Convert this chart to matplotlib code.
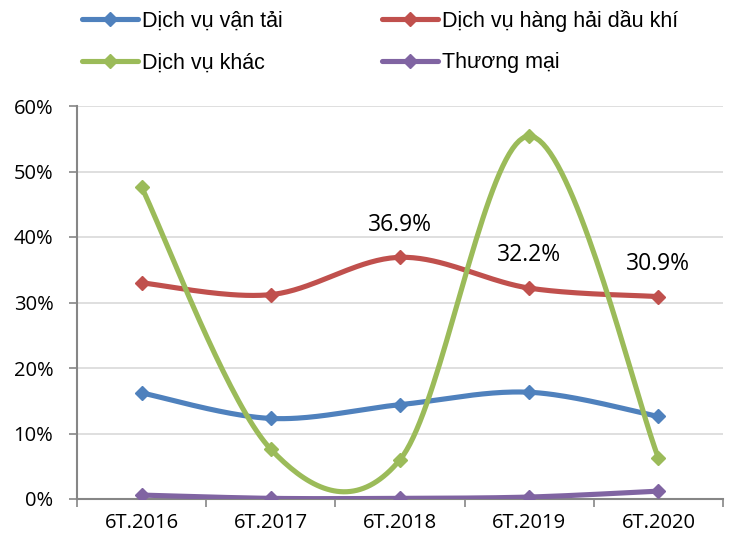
import numpy as np
import matplotlib
matplotlib.use("Agg")
import matplotlib.pyplot as plt
from matplotlib.lines import Line2D

categories = ["6T.2016", "6T.2017", "6T.2018", "6T.2019", "6T.2020"]
van_tai = [16.2, 12.3, 14.4, 16.3, 12.6]
hang_hai = [33.0, 31.2, 36.9, 32.2, 30.9]
khac = [47.6, 7.6, 6.0, 55.4, 6.3]
thuong_mai = [0.6, 0.1, 0.1, 0.3, 1.2]
series_names = ["Dịch vụ vận tải", "Dịch vụ hàng hải dầu khí", "Dịch vụ khác", "Thương mại"]
labels_idx = [2, 3, 4]  # labelled points of hang_hai
y_ticks = [0, 10, 20, 30, 40, 50, 60]

colors = ["#4F81BD", "#C0504D", "#9BBB59", "#8064A2"]


def smooth(x, y, n=40):
    x = np.asarray(x, float)
    y = np.asarray(y, float)
    P = np.column_stack([x, y])
    Pe = np.vstack([P[0], P, P[-1]])
    xs, ys = [], []
    t = np.linspace(0, 1, n)
    for i in range(len(P) - 1):
        p0, p1, p2, p3 = Pe[i], Pe[i + 1], Pe[i + 2], Pe[i + 3]
        c1 = p1 + (p2 - p0) / 6.0
        c2 = p2 - (p3 - p1) / 6.0
        b = ((1 - t) ** 3)[:, None] * p1 + (3 * (1 - t) ** 2 * t)[:, None] * c1 \
            + (3 * (1 - t) * t ** 2)[:, None] * c2 + (t ** 3)[:, None] * p2
        xs.append(b[:, 0])
        ys.append(b[:, 1])
    return np.concatenate(xs), np.concatenate(ys)


fig = plt.figure(figsize=(7.31, 5.42), dpi=100)
ax = fig.add_axes([77 / 731, 1 - 499 / 542, (723 - 77) / 731, (499 - 106) / 542])

x = np.arange(len(categories))
data = [van_tai, hang_hai, khac, thuong_mai]
handles = []
for vals, c, name in zip(data, colors, series_names):
    sx, sy = smooth(x, vals)
    ax.plot(sx, sy, color=c, lw=3.7, solid_capstyle="round", zorder=3)
    ax.plot(x, vals, linestyle="none", marker="D", ms=7.5, color=c, zorder=4)
    handles.append(Line2D([0], [0], color=c, lw=3.7, marker="D", ms=7.5,
                          solid_capstyle="round"))

for i in labels_idx:
    ax.annotate(f"{hang_hai[i]:.1f}%", (x[i], hang_hai[i]), xytext=(0, 23.5),
                textcoords="offset points", ha="center", va="center",
                fontsize=16.5, family="Open Sans", color="black", zorder=5)

ax.set_xlim(-0.5, len(categories) - 0.5)
ax.set_ylim(0, 60)
ax.set_yticks(y_ticks)
ax.set_yticklabels([f"{v}%" for v in y_ticks], family="Open Sans", fontsize=14.5)
ax.yaxis.grid(True, color="#D9D9D9", lw=1.2)
ax.set_axisbelow(True)

ax.set_xticks(np.arange(-0.5, len(categories)), labels=[""] * (len(categories) + 1))
ax.set_xticks(x, minor=True)
ax.set_xticklabels(categories, minor=True, family="Open Sans", fontsize=14.5)
ax.tick_params(axis="x", which="minor", length=0, pad=10)
ax.tick_params(axis="x", which="major", length=6, width=1.2, color="#868686")
ax.tick_params(axis="y", length=6, width=1.2, color="#868686", pad=11)

for s in ["top", "right"]:
    ax.spines[s].set_visible(False)
for s in ["left", "bottom"]:
    ax.spines[s].set_color("#868686")
    ax.spines[s].set_linewidth(1.5)

order = [0, 2, 1, 3]
fig.legend([handles[i] for i in order], [series_names[i] for i in order],
           loc="upper left", bbox_to_anchor=(82 / 731, 1 - 10 / 542),
           ncol=2, frameon=False, prop={"family": "Liberation Sans", "size": 15.5},
           handlelength=2.6, handletextpad=0.2, columnspacing=4.6, labelspacing=0.95,
           borderpad=0, borderaxespad=0)

fig.savefig("out.png", dpi=100)
